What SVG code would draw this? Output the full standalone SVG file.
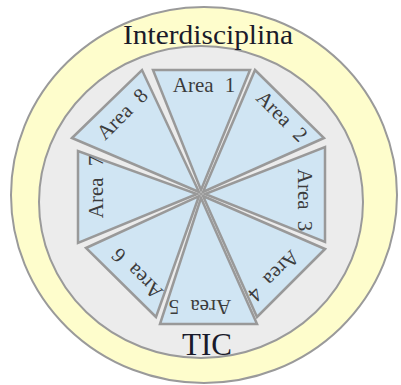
<svg xmlns="http://www.w3.org/2000/svg" width="401" height="385" viewBox="0 0 401 385">
<style>
.ring{stroke:#9a9a9a;stroke-width:2}
.seg{fill:#d0e5f3;stroke:#999;stroke-width:2.5;stroke-linejoin:miter}
.lab{font-family:"Liberation Serif","Times New Roman",serif;font-size:21px;fill:#3c3c3c;text-anchor:middle;word-spacing:6px}
.big{font-family:"Liberation Serif","Times New Roman",serif;fill:#1a1a2a;text-anchor:middle}
</style>
<g id="outer"><ellipse class="ring" cx="204" cy="195" rx="193" ry="188" fill="#fefdcc"/></g>
<g id="inner"><ellipse class="ring" cx="201" cy="202" rx="162" ry="156" fill="#ececec"/></g>
<g id="area1"><polygon class="seg" points="153,70 250,70 201,190"/><text class="lab" x="204" y="92">Area 1</text></g>
<g id="area2"><polygon class="seg" points="255,70 324,138 203,192"/><text class="lab" transform="translate(277,121) rotate(45)">Area 2</text></g>
<g id="area3"><polygon class="seg" points="325,147 325,242 205,194"/><text class="lab" transform="translate(298,200) rotate(90)">Area 3</text></g>
<g id="area4"><polygon class="seg" points="325,249 257,317 203,196"/><text class="lab" transform="translate(269,271) rotate(135)">Area 4</text></g>
<g id="area5"><polygon class="seg" points="257,324 160,324 201,198"/><text class="lab" transform="translate(200,300) rotate(180)">Area 5</text></g>
<g id="area6"><polygon class="seg" points="156,317 86,248 199,196"/><text class="lab" transform="translate(142,269) rotate(225)">Area 6</text></g>
<g id="area7"><polygon class="seg" points="78,243 78,151 197,194"/><text class="lab" transform="translate(103,187) rotate(270)">Area 7</text></g>
<g id="area8"><polygon class="seg" points="72,138 142,70 199,192"/><text class="lab" transform="translate(127,119) rotate(315)">Area 8</text></g>
<g id="title"><text class="big" x="208" y="44" font-size="28" textLength="170" lengthAdjust="spacingAndGlyphs">Interdisciplina</text></g>
<g id="tic"><text class="big" x="207" y="355" font-size="31">TIC</text></g>
<g id="connectors"></g>
</svg>
